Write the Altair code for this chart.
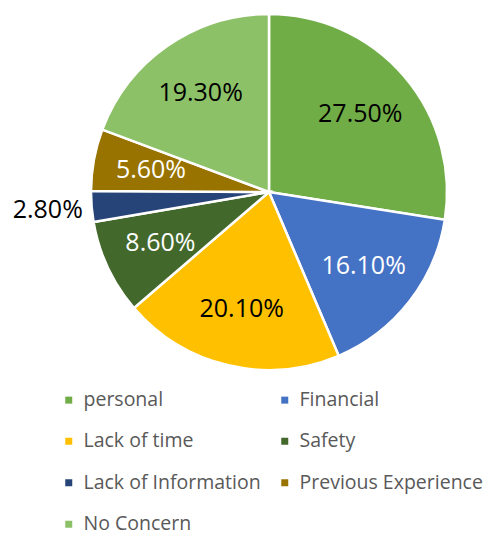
import altair as alt
import pandas as pd

categories = ["personal", "Financial", "Lack of time", "Safety",
              "Lack of Information", "Previous Experience", "No Concern"]
values = [27.5, 16.1, 20.1, 8.6, 2.8, 5.6, 19.3]
colors = ["#70AD47", "#4472C4", "#FFC000", "#43682B",
          "#264478", "#997300", "#8CC168"]
white_labels = ["Financial", "Safety", "Previous Experience"]

df = pd.DataFrame({"category": categories, "value": values,
                   "idx": list(range(len(categories)))})

CX, CY, R = 261, 184, 178
FONT = "Open Sans"
TAU = 6.283185307179586

base = alt.Chart(df)

color = alt.Color("category:N", sort=categories,
                  scale=alt.Scale(domain=categories, range=colors),
                  legend=alt.Legend(
                      title=None, orient="none", legendX=51, legendY=382,
                      columns=2, direction="horizontal",
                      symbolType="square", symbolSize=49,
                      symbolStrokeWidth=0, labelFont=FONT, labelFontSize=19.5,
                      labelColor="#595959", rowPadding=20.5, columnPadding=14,
                      labelOffset=5, padding=0, labelLimit=300))

pie = base.mark_arc(radius=R, stroke="white", strokeWidth=2.5).encode(
    theta=alt.Theta("value:Q", stack=True,
                    scale=alt.Scale(domain=[0, 100], range=[0, TAU])),
    order=alt.Order("idx:Q"),
    color=color,
    x=alt.value(CX), y=alt.value(CY),
)

labels = base.transform_window(
    cum="sum(value)", sort=[alt.SortField("idx")]
).transform_calculate(
    mid="datum.cum - datum.value / 2",
    frac="datum.value / 100",
    lr="datum.value < 3 ? 222 : 120",
).mark_text(font=FONT, fontSize=25, align="center", baseline="middle").encode(
    theta=alt.Theta("mid:Q", stack=None,
                    scale=alt.Scale(domain=[0, 100], range=[0, TAU])),
    radius=alt.Radius("lr:Q", scale=None),
    text=alt.Text("frac:Q", format=".2%"),
    color=alt.condition(alt.FieldOneOfPredicate(field="category", oneOf=white_labels),
                        alt.value("white"), alt.value("black")),
    x=alt.value(CX), y=alt.value(CY),
)

chart = alt.layer(pie, labels).properties(
    width=478, height=516, padding=0
).configure_view(stroke=None)

chart.save("out.html", embed_options={"renderer": "svg", "actions": False})
